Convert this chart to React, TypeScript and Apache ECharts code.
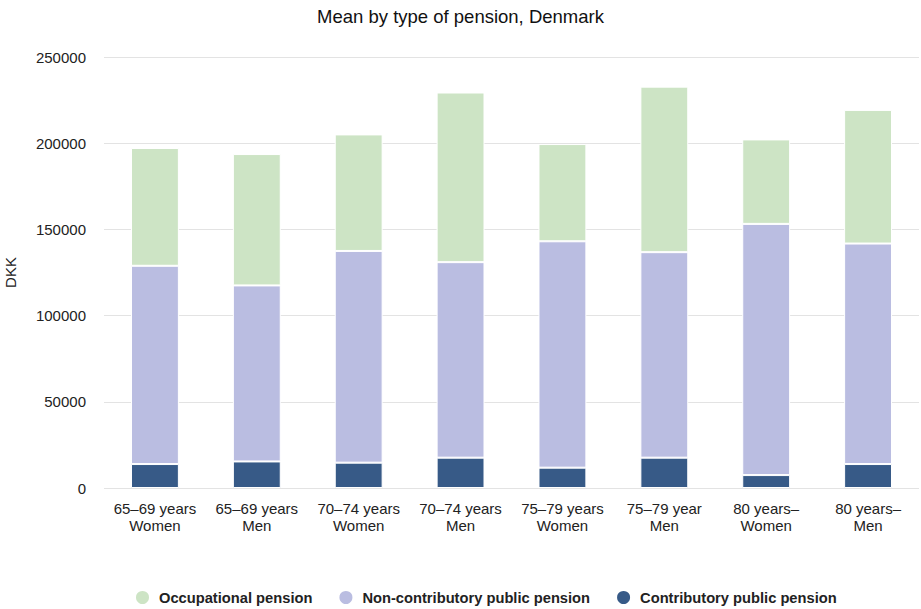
import React, { useEffect, useRef } from "react";
import * as echarts from "echarts";

const categories = [
  "65–69 years\nWomen",
  "65–69 years\nMen",
  "70–74 years\nWomen",
  "70–74 years\nMen",
  "75–79 years\nWomen",
  "75–79 year\nMen",
  "80 years–\nWomen",
  "80 years–\nMen",
];
const contributory = [13900, 15400, 14700, 17600, 11800, 17600, 7500, 13900];
const nonContributory = [115000, 102100, 122800, 113400, 131300, 119200, 145700, 127900];
const occupational = [68300, 76200, 67600, 98400, 56400, 96000, 49000, 77500];

export default function App() {
  const ref = useRef<HTMLDivElement>(null);
  useEffect(() => {
    const chart = echarts.init(ref.current!, undefined, { renderer: "svg" });
    const font = "'Liberation Sans', Arial, sans-serif";
    chart.setOption({
      animation: false,
      textStyle: { fontFamily: font },
      title: {
        text: "Mean by type of pension, Denmark",
        left: "center",
        top: 2,
        textStyle: { fontSize: 18.5, fontWeight: "normal", color: "#111", fontFamily: font },
      },
      grid: { left: 104, right: 2, top: 57, bottom: 121, outerBoundsMode: "none", containLabel: false },
      legend: {
        top: 584,
        left: 129,
        icon: "circle",
        itemWidth: 15,
        itemHeight: 15,
        itemGap: 25,
        data: ["Occupational pension", "Non-contributory public pension", "Contributory public pension"],
        textStyle: { fontSize: 14.7, fontWeight: "bold", color: "#222", fontFamily: font, padding: [0, 0, 0, 4] },
      },
      xAxis: {
        type: "category",
        data: categories,
        axisLine: { show: false },
        axisTick: { show: false },
        axisLabel: { fontSize: 15, color: "#222", lineHeight: 17, margin: 12, interval: 0, fontFamily: font },
      },
      yAxis: {
        type: "value",
        min: 0,
        max: 250000,
        interval: 50000,
        name: "DKK",
        nameLocation: "middle",
        nameRotate: 90,
        nameGap: 86,
        nameTextStyle: { fontSize: 15, color: "#222", fontFamily: font },
        axisLabel: { fontSize: 15, color: "#222", margin: 18, fontFamily: font, formatter: (v: number) => String(v) },
        splitLine: { lineStyle: { color: "#e3e3e3", width: 1 } },
      },
      series: [
        {
          name: "Contributory public pension",
          type: "bar",
          stack: "t",
          barWidth: "47%",
          data: contributory,
          itemStyle: { color: "#375a87", borderColor: "#fff", borderWidth: 1 },
        },
        {
          name: "Non-contributory public pension",
          type: "bar",
          stack: "t",
          data: nonContributory,
          itemStyle: { color: "#babde1", borderColor: "#fff", borderWidth: 1 },
        },
        {
          name: "Occupational pension",
          type: "bar",
          stack: "t",
          data: occupational,
          itemStyle: { color: "#cde4c5", borderColor: "#fff", borderWidth: 1 },
        },
      ],
    });
    return () => chart.dispose();
  }, []);
  return <div ref={ref} style={{ width: 921, height: 609, position: "absolute", left: 0, top: 0 }} />;
}
